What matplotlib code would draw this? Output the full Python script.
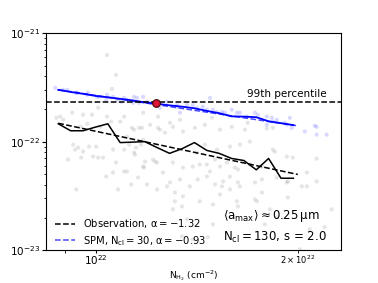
import numpy as np
import matplotlib
matplotlib.use('Agg')
import matplotlib.pyplot as plt

# binned medians (N in 1e22 cm^-2, P in 1e-22)
bin_N = [0.878, 0.916, 0.956, 0.997, 1.041, 1.086, 1.133, 1.182, 1.234, 1.287,
         1.343, 1.402, 1.463, 1.526, 1.593, 1.662, 1.734, 1.809, 1.888, 1.970]
obs_median = [1.46, 1.26, 1.26, 1.36, 1.46, 0.98, 0.99, 1.00, 0.88, 0.78,
              0.86, 0.98, 0.83, 0.78, 0.70, 0.67, 0.55, 0.70, 0.46, 0.46]
spm_median = [3.00, 2.87, 2.76, 2.64, 2.56, 2.48, 2.40, 2.30, 2.23, 2.16,
              2.10, 2.03, 1.92, 1.83, 1.71, 1.70, 1.68, 1.54, 1.48, 1.42]

# power-law fits
obs_alpha = -1.32
spm_alpha = -0.93
fit_pivot = 1.324
obs_amp = 0.859
spm_amp = 2.05
fit_range = [0.878, 2.0]

p99 = 2.31
marker_N, marker_P = 1.229, 2.28

# observed pixels (grey)
grey_N = [1.038, 1.071, 1.056, 0.884, 0.893, 0.921, 0.956, 0.986, 1.007, 0.947,
          0.970, 1.014, 1.038, 1.086, 1.131, 1.171, 1.112, 1.237, 1.245, 1.289,
          1.334, 1.348, 0.872, 1.101, 1.159, 1.175, 1.120, 1.000, 0.924, 1.053,
          1.139, 0.940, 0.976, 0.956, 0.990, 1.024, 0.950, 1.060, 1.101, 1.147,
          1.139, 1.167, 1.071, 1.101, 1.035, 1.155, 1.128, 1.179, 0.934, 1.078,
          0.908, 0.930, 1.007, 1.060, 1.112, 1.143, 1.175, 1.216, 1.258, 1.289,
          1.334, 1.343, 1.302, 1.233, 1.276, 1.348, 1.311, 1.175, 1.204, 1.237,
          1.267, 1.302, 1.404, 1.453, 1.489, 1.531, 1.594, 1.183, 1.224, 1.302,
          1.348, 1.394, 1.463, 1.505, 1.568, 1.611, 1.380, 1.418, 1.463, 1.505,
          1.547, 1.584, 1.628, 1.311, 1.531, 1.191, 1.233, 1.414, 1.453, 1.515,
          1.584, 1.639, 1.696, 1.836, 1.428, 1.479, 1.531, 1.584, 1.541, 1.639,
          1.726, 1.768, 1.848, 1.926, 2.063, 2.063, 1.428, 1.494, 1.628, 1.738,
          1.817, 1.786, 1.861, 2.084, 2.014, 1.668, 1.684, 1.798, 1.836, 1.926,
          1.966, 2.134, 1.628, 1.696, 1.768, 1.861, 1.933, 2.028, 2.134, 1.768,
          1.933, 1.343, 1.366, 1.394, 1.468, 1.726, 1.622, 1.494, 2.193, 2.247]
grey_P = [6.28, 4.12, 3.06, 1.70, 1.59, 1.85, 1.77, 1.77, 2.05, 1.37,
          1.46, 1.37, 1.70, 1.53, 1.34, 1.34, 1.11, 1.70, 1.29, 1.49,
          1.59, 1.24, 1.66, 1.70, 1.34, 1.04, 0.939, 0.900, 0.939, 1.53,
          1.29, 0.881, 0.900, 0.810, 0.729, 0.713, 0.713, 0.845, 0.845, 0.881,
          0.793, 0.939, 0.642, 0.531, 0.477, 0.467, 0.403, 0.577, 0.363, 0.363,
          0.684, 0.845, 0.713, 0.520, 0.531, 0.760, 0.590, 0.684, 0.520, 0.421,
          0.448, 0.134, 0.238, 0.642, 0.387, 0.313, 0.282, 1.85, 1.43, 1.34,
          1.21, 1.37, 1.34, 1.43, 1.66, 1.29, 1.37, 0.655, 0.655, 0.642,
          0.577, 0.590, 0.615, 0.684, 0.642, 0.577, 0.387, 0.448, 0.477, 0.403,
          0.430, 0.363, 0.421, 0.340, 0.326, 0.403, 0.363, 0.793, 0.939, 0.845,
          0.900, 0.939, 1.00, 0.845, 0.615, 0.531, 0.590, 0.477, 0.387, 0.387,
          0.421, 0.590, 0.810, 0.421, 0.520, 0.387, 0.282, 0.264, 0.253, 0.282,
          0.238, 0.173, 0.201, 0.156, 0.102, 1.29, 1.49, 1.32, 1.34, 0.729,
          0.713, 0.698, 0.554, 0.615, 0.448, 0.467, 0.430, 0.387, 0.430, 0.340,
          0.306, 0.253, 0.192, 0.126, 0.132, 0.294, 0.282, 0.173, 0.163, 0.238]

# model pixels (blue)
blue_N = [0.869, 0.905, 0.937, 0.970, 1.003, 1.038, 1.075, 1.112, 1.151, 1.191,
          1.276, 1.320, 1.135, 0.893, 0.934, 0.973, 1.010, 1.060, 1.101, 1.139,
          1.159, 1.090, 1.035, 1.175, 1.204, 1.320, 1.366, 1.414, 1.463, 1.515,
          1.479, 1.557, 1.622, 1.334, 1.245, 1.394, 1.443, 1.494, 1.541, 1.594,
          1.639, 1.679, 1.744, 1.798, 1.861, 1.946, 1.926, 2.134, 2.049, 1.726,
          1.829, 1.836, 1.959, 2.120, 2.134, 2.208, 1.798, 1.913]
blue_P = [3.13, 3.00, 2.82, 2.70, 2.59, 2.70, 2.43, 2.43, 2.53, 2.33,
          2.33, 2.18, 2.28, 3.00, 2.82, 2.82, 2.59, 2.59, 2.53, 2.59,
          2.28, 2.33, 2.43, 2.59, 2.28, 2.10, 2.18, 2.05, 1.97, 1.88,
          2.53, 1.85, 1.85, 1.85, 2.05, 2.18, 2.10, 1.97, 1.88, 1.97,
          1.85, 1.70, 1.77, 1.70, 1.59, 1.66, 1.43, 1.37, 1.24, 1.85,
          1.66, 1.53, 1.34, 1.40, 1.16, 1.16, 1.43, 1.49]

nscale = 1e22
pscale = 1e-22

fig = plt.figure(figsize=(3.78, 2.83), dpi=100)
ax = fig.add_axes([0.122, 0.116, 0.780, 0.767])

ax.scatter(np.array(grey_N) * nscale, np.array(grey_P) * pscale, s=9, color='grey',
           alpha=0.2, edgecolors='none')
ax.scatter(np.array(blue_N) * nscale, np.array(blue_P) * pscale, s=9, color='blue',
           alpha=0.15, edgecolors='none')

ax.plot(np.array(bin_N) * nscale, np.array(obs_median) * pscale, color='black', lw=1.1)
ax.plot(np.array(bin_N) * nscale, np.array(spm_median) * pscale, color='blue', lw=1.3)

xf = np.array(fit_range)
ax.plot(xf * nscale, obs_amp * (xf / fit_pivot) ** obs_alpha * pscale, 'k--', lw=1.1,
        label=r'Observation, $\mathrm{\alpha = -1.32}$')
ax.plot(xf * nscale, spm_amp * (xf / fit_pivot) ** spm_alpha * pscale, '--', color='blue',
        alpha=0.7, lw=1.1, label=r'SPM, $\mathrm{N_{cl} = 30}$, $\mathrm{\alpha = -0.93}$')

ax.axhline(p99 * pscale, color='black', ls='--', lw=1.1)
ax.text(0.95, p99 * pscale * 1.07, '99th percentile', transform=ax.get_yaxis_transform(),
        ha='right', va='bottom', fontsize=7.5)
ax.plot(marker_N * nscale, marker_P * pscale, 'o', color='crimson', mec='#400000', ms=5.5, mew=0.8)

ax.set_xscale('log')
ax.set_yscale('log')
ax.set_xlim(8.42e21, 2.32e22)
ax.set_ylim(1e-23, 1e-21)
ax.tick_params(which='major', labelsize=7.5, length=3, pad=1.5)
ax.tick_params(which='minor', labelsize=6, length=1.5, pad=1.5)
ax.tick_params(axis='x', which='both', length=2, pad=0.5)
ax.set_xlabel(r'$\mathrm{N_{H_2}}$ (cm$^{-2}$)', fontsize=6.5, labelpad=0.5)

ax.legend(loc='lower left', frameon=False, fontsize=7.2, handlelength=2.0,
          labelspacing=0.35, bbox_to_anchor=(0.0, -0.03))
ax.text(0.60, 0.025, r'$\langle \mathrm{a_{max}} \rangle \approx 0.25\,\mathrm{\mu m}$' + '\n'
        + r'$\mathrm{N_{cl} = 130}$, s = 2.0', transform=ax.transAxes,
        fontsize=8.5, ha='left', va='bottom', linespacing=1.55)

plt.savefig('out.png', dpi=100)
